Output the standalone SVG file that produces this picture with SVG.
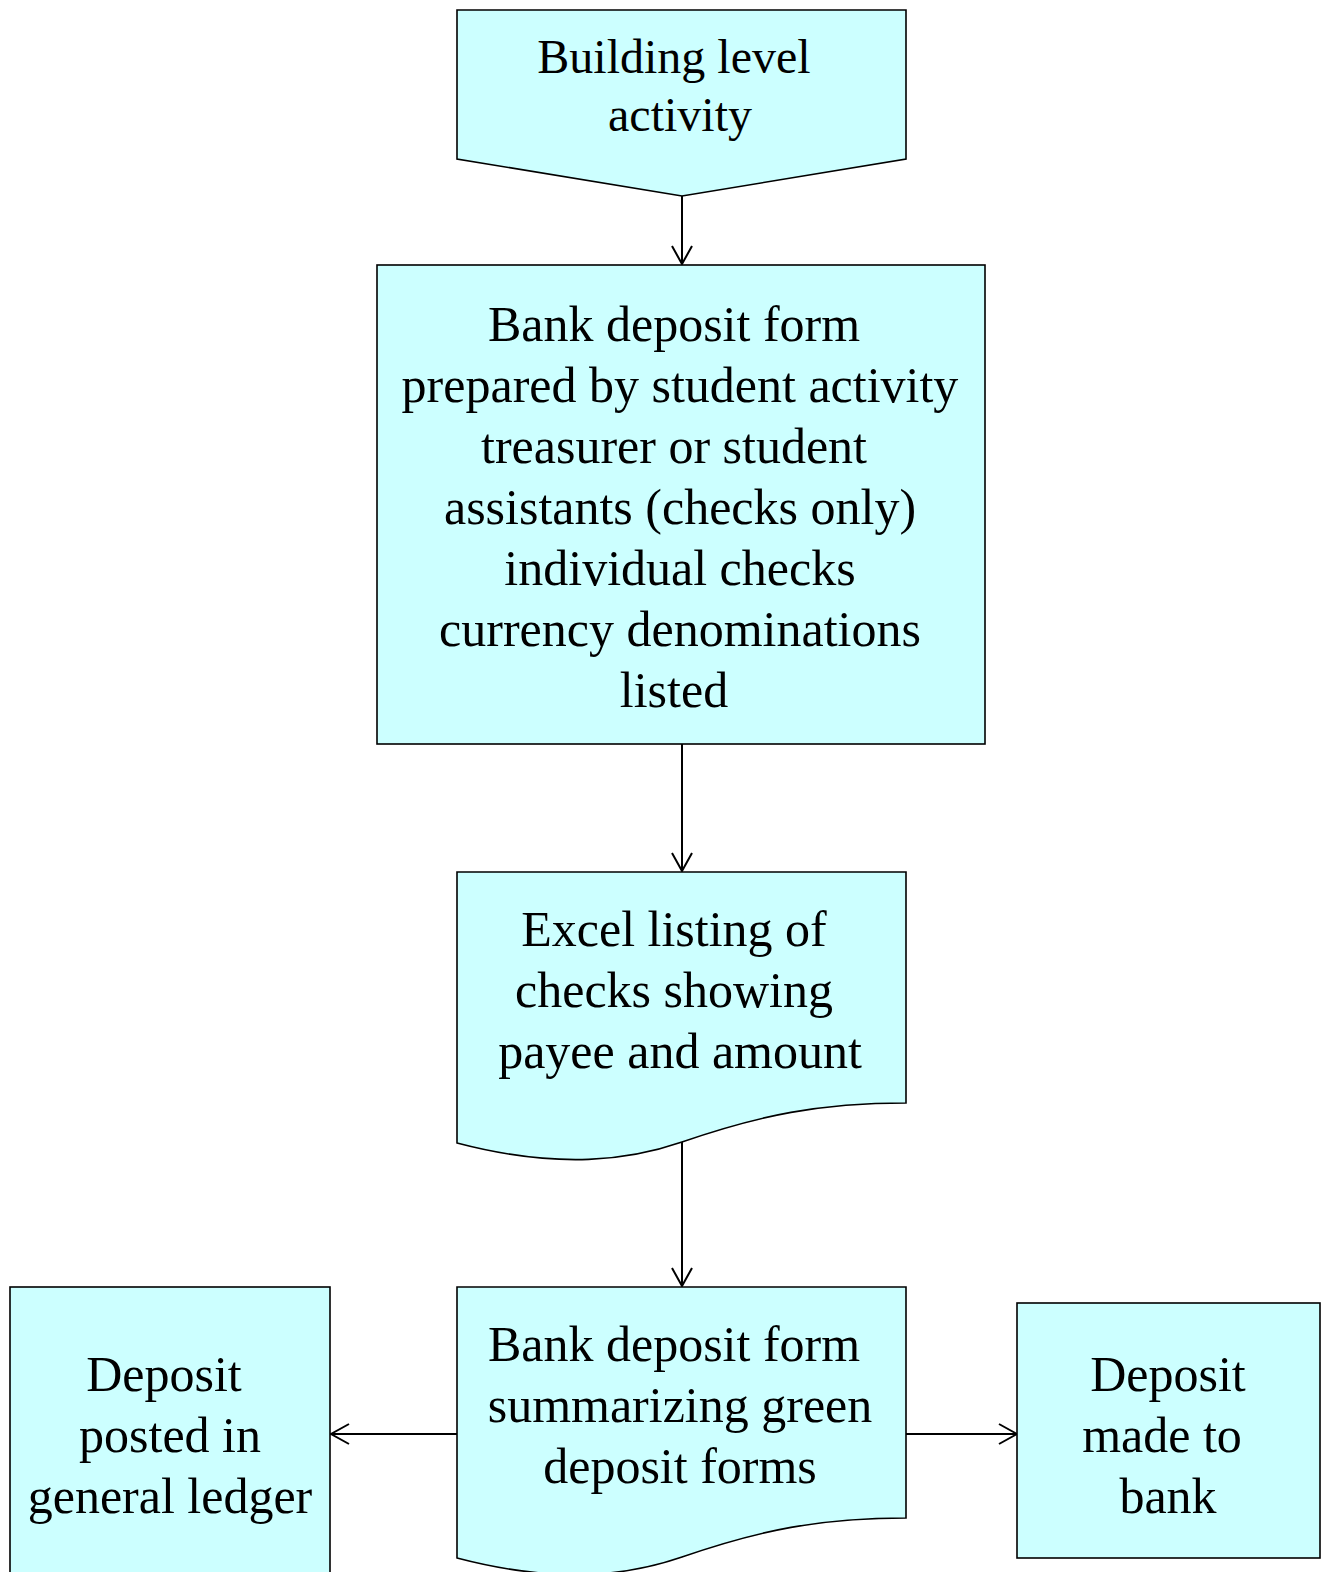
<svg xmlns="http://www.w3.org/2000/svg" width="1324" height="1572" viewBox="0 0 1324 1572">
<style>
.shape{fill:#CCFFFF;stroke:#000;stroke-width:1.6}
.t{font-family:"Liberation Serif","Times New Roman",serif;font-size:50px;fill:#000;text-anchor:middle}
.t48{font-size:48px}
.conn{fill:none;stroke:#000;stroke-width:2;marker-end:url(#arr)}
</style>
<defs>
<marker id="arr" markerUnits="userSpaceOnUse" viewBox="-20 -12 22 24" markerWidth="22" markerHeight="24" refX="0" refY="0" orient="auto">
<path d="M-18,-10 L0,0 L-18,10" fill="none" stroke="#000" stroke-width="2"/>
</marker>
</defs>
<rect width="1324" height="1572" fill="#fff"/>
<g id="connectors">
<line class="conn" x1="682" y1="196" x2="682" y2="264"/>
<line class="conn" x1="682" y1="744" x2="682" y2="871"/>
<line class="conn" x1="682" y1="1142" x2="682" y2="1286"/>
<line class="conn" x1="457" y1="1434" x2="331" y2="1434"/>
<line class="conn" x1="906" y1="1434" x2="1017" y2="1434"/>
</g>
<g id="n-building">
<path class="shape" d="M457,10 L906,10 L906,159 L682,196 L457,159 Z"/>
<text class="t t48" x="674" y="73">Building level</text>
<text class="t t48" x="680" y="131">activity</text>
</g>
<g id="n-bankform">
<rect class="shape" x="377" y="265" width="608" height="479"/>
<text class="t" x="674" y="341">Bank deposit form</text>
<text class="t" x="680" y="402">prepared by student activity</text>
<text class="t" x="674" y="463">treasurer or student</text>
<text class="t" x="680" y="524">assistants (checks only)</text>
<text class="t" x="680" y="585">individual checks</text>
<text class="t" x="680" y="646">currency denominations</text>
<text class="t" x="674" y="707">listed</text>
</g>
<g id="n-excel">
<path class="shape" d="M457,872 L906,872 L906,1103 C820,1103 760,1115 682,1142 C630,1160 560,1170 457,1143 Z"/>
<text class="t" x="674" y="946">Excel listing of</text>
<text class="t" x="674" y="1007">checks showing</text>
<text class="t" x="680" y="1068">payee and amount</text>
</g>
<g id="n-summary">
<path class="shape" d="M457,1287 L906,1287 L906,1518 C820,1518 760,1530 682,1557 C630,1575 560,1585 457,1558 Z"/>
<text class="t" x="674" y="1361">Bank deposit form</text>
<text class="t" x="680" y="1422">summarizing green</text>
<text class="t" x="680" y="1483">deposit forms</text>
</g>
<g id="n-ledger">
<rect class="shape" x="10" y="1287" width="320" height="300"/>
<text class="t" x="164" y="1391">Deposit</text>
<text class="t" x="170" y="1452">posted in</text>
<text class="t" x="170" y="1513">general ledger</text>
</g>
<g id="n-bank">
<rect class="shape" x="1017" y="1303" width="303" height="255"/>
<text class="t" x="1168" y="1391">Deposit</text>
<text class="t" x="1162" y="1452">made to</text>
<text class="t" x="1168" y="1513">bank</text>
</g>
</svg>
